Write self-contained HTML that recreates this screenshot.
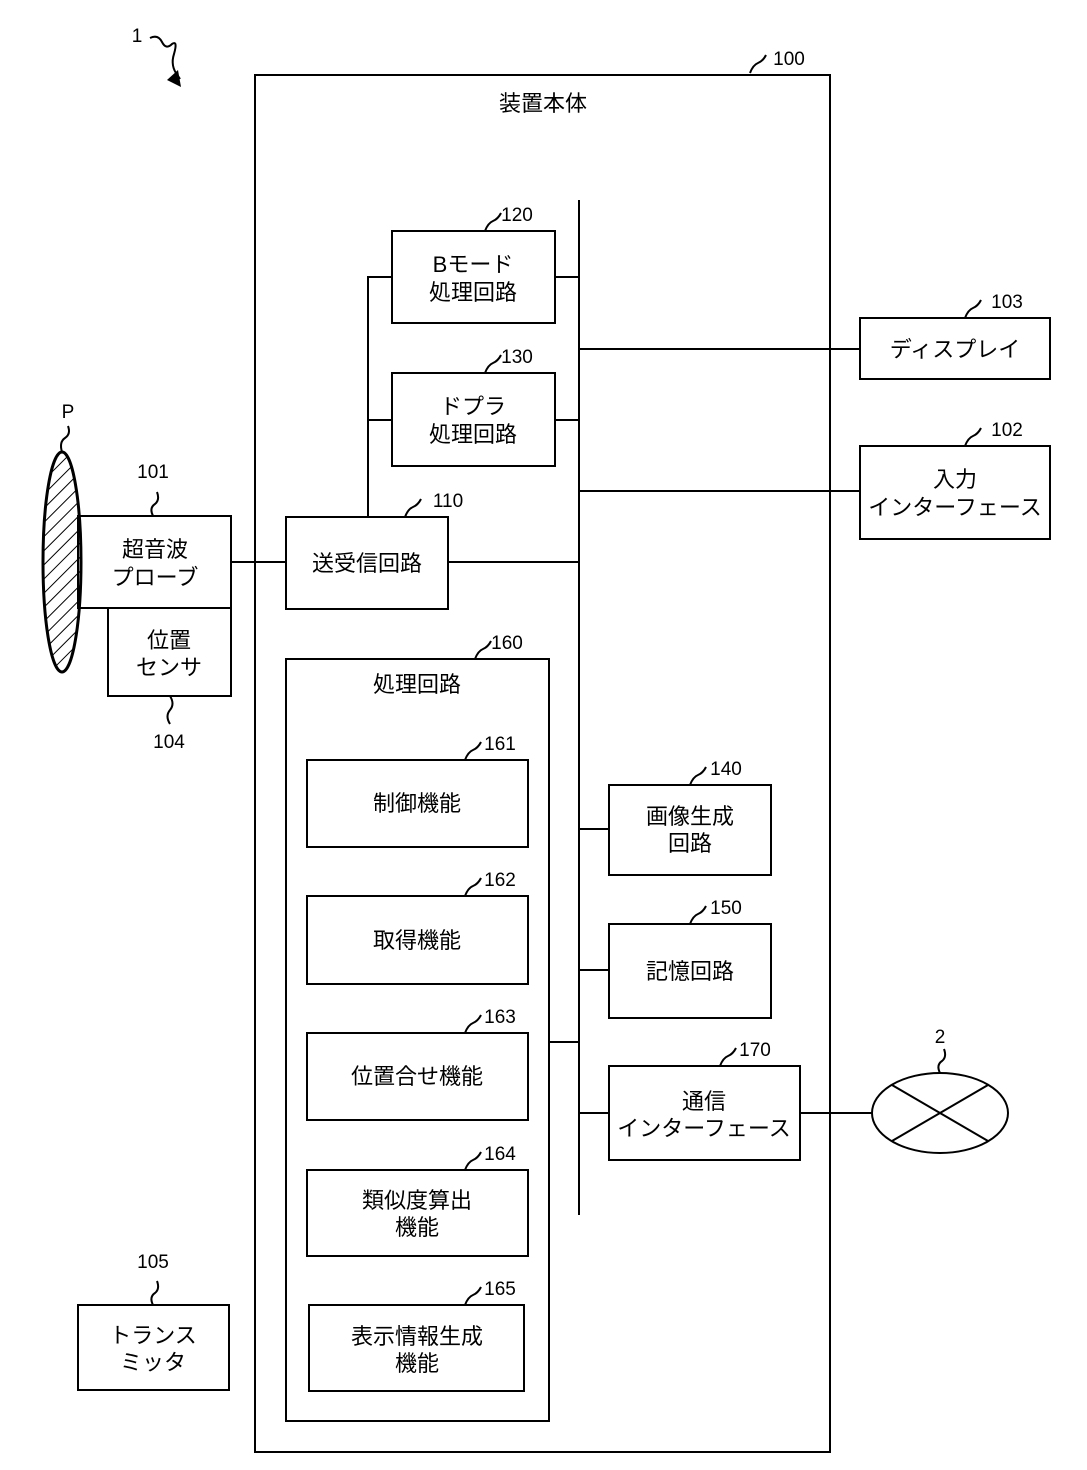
<!DOCTYPE html>
<html><head><meta charset="utf-8"><style>
html,body{margin:0;padding:0;background:#fff}
svg text{font-family:"Liberation Sans","Noto Sans CJK JP",sans-serif;fill:#000}
</style></head><body>
<svg width="1087" height="1465" viewBox="0 0 1087 1465" xmlns="http://www.w3.org/2000/svg">
<defs>
<pattern id="h" patternUnits="userSpaceOnUse" width="10" height="10" patternTransform="rotate(45)">
<line x1="0" y1="0" x2="0" y2="10" stroke="#000" stroke-width="2"/>
</pattern>
</defs>
<g fill="none" stroke="#000" stroke-width="2">
<rect x="255" y="75" width="575" height="1377"/>
<line x1="579" y1="200" x2="579" y2="1215"/>
<rect x="392" y="231" width="163" height="92"/>
<rect x="392" y="373" width="163" height="93"/>
<line x1="555" y1="277" x2="579" y2="277"/>
<line x1="555" y1="420" x2="579" y2="420"/>
<polyline points="392,277 368,277 368,517"/>
<line x1="368" y1="420" x2="392" y2="420"/>
<rect x="286" y="517" width="162" height="92"/>
<line x1="448" y1="562" x2="579" y2="562"/>
<line x1="231" y1="562" x2="286" y2="562"/>
<rect x="78" y="516" width="153" height="92"/>
<rect x="108" y="608" width="123" height="88"/>
<rect x="860" y="318" width="190" height="61"/>
<line x1="579" y1="349" x2="860" y2="349"/>
<rect x="860" y="446" width="190" height="93"/>
<line x1="579" y1="491" x2="860" y2="491"/>
<rect x="286" y="659" width="263" height="762"/>
<rect x="307" y="760" width="221" height="87"/>
<rect x="307" y="896" width="221" height="88"/>
<rect x="307" y="1033" width="221" height="87"/>
<rect x="307" y="1170" width="221" height="86"/>
<rect x="309" y="1305" width="215" height="86"/>
<line x1="549" y1="1042" x2="579" y2="1042"/>
<rect x="609" y="785" width="162" height="90"/>
<line x1="579" y1="829" x2="609" y2="829"/>
<rect x="609" y="924" width="162" height="94"/>
<line x1="579" y1="970" x2="609" y2="970"/>
<rect x="609" y="1066" width="191" height="94"/>
<line x1="579" y1="1113" x2="609" y2="1113"/>
<line x1="800" y1="1113" x2="872" y2="1113"/>
<ellipse cx="940" cy="1113" rx="68" ry="40"/>
<line x1="892" y1="1085" x2="988" y2="1141"/>
<line x1="892" y1="1141" x2="988" y2="1085"/>
<rect x="78" y="1305" width="151" height="85"/>
<path d="M750,73 q3,-8 8,-10 q5,-2 8,-8"/>
<path d="M150,38 q8,-4 12,4 q4,8 10,2 q6,-4 2,10 q-4,12 4,22 l2,3"/>
<path d="M62,452 q-3,-10 3,-14 q6,-4 3,-12"/>
<path d="M153,516 q-4,-8 2,-12 q5,-4 2,-12"/>
<path d="M170,696 q5,8 0,14 q-5,6 0,14"/>
<path d="M485,231 q3,-8 8,-10 q5,-2 8,-8"/>
<path d="M485,373 q3,-8 8,-10 q5,-2 8,-8"/>
<path d="M405,517 q3,-8 8,-10 q5,-2 8,-8"/>
<path d="M965,318 q3,-8 8,-10 q5,-2 8,-8"/>
<path d="M965,446 q3,-8 8,-10 q5,-2 8,-8"/>
<path d="M475,659 q3,-8 8,-10 q5,-2 8,-8"/>
<path d="M465,760 q3,-8 8,-10 q5,-2 8,-8"/>
<path d="M465,896 q3,-8 8,-10 q5,-2 8,-8"/>
<path d="M465,1033 q3,-8 8,-10 q5,-2 8,-8"/>
<path d="M465,1170 q3,-8 8,-10 q5,-2 8,-8"/>
<path d="M465,1305 q3,-8 8,-10 q5,-2 8,-8"/>
<path d="M690,785 q3,-8 8,-10 q5,-2 8,-8"/>
<path d="M690,924 q3,-8 8,-10 q5,-2 8,-8"/>
<path d="M720,1066 q3,-8 8,-10 q5,-2 8,-8"/>
<path d="M940,1073 q-4,-8 2,-12 q5,-4 2,-12"/>
<path d="M153,1305 q-4,-8 2,-12 q5,-4 2,-12"/>
</g>
<polygon points="181,87 167,80 178,70" fill="#000"/>
<ellipse cx="62" cy="562" rx="19" ry="110" fill="url(#h)" stroke="#000" stroke-width="3"/>
<g font-size="22" text-anchor="middle">
<text x="543" y="111">装置本体</text>
<text x="473" y="272">Bモード</text>
<text x="473" y="300">処理回路</text>
<text x="473" y="414">ドプラ</text>
<text x="473" y="442">処理回路</text>
<text x="367" y="571">送受信回路</text>
<text x="155" y="557">超音波</text>
<text x="155" y="585">プローブ</text>
<text x="169" y="648">位置</text>
<text x="169" y="675">センサ</text>
<text x="955" y="357">ディスプレイ</text>
<text x="955" y="487">入力</text>
<text x="955" y="515">インターフェース</text>
<text x="417" y="692">処理回路</text>
<text x="417" y="811">制御機能</text>
<text x="417" y="948">取得機能</text>
<text x="417" y="1084">位置合せ機能</text>
<text x="417" y="1208">類似度算出</text>
<text x="417" y="1235">機能</text>
<text x="417" y="1344">表示情報生成</text>
<text x="417" y="1371">機能</text>
<text x="690" y="824">画像生成</text>
<text x="690" y="851">回路</text>
<text x="690" y="979">記憶回路</text>
<text x="704" y="1109">通信</text>
<text x="704" y="1136">インターフェース</text>
<text x="153" y="1343">トランス</text>
<text x="153" y="1370">ミッタ</text>
</g>
<g font-size="19" text-anchor="middle">
<text x="789" y="65">100</text>
<text x="137" y="42">1</text>
<text x="68" y="418">P</text>
<text x="153" y="478">101</text>
<text x="169" y="748">104</text>
<text x="517" y="221">120</text>
<text x="517" y="363">130</text>
<text x="448" y="507">110</text>
<text x="1007" y="308">103</text>
<text x="1007" y="436">102</text>
<text x="507" y="649">160</text>
<text x="500" y="750">161</text>
<text x="500" y="886">162</text>
<text x="500" y="1023">163</text>
<text x="500" y="1160">164</text>
<text x="500" y="1295">165</text>
<text x="726" y="775">140</text>
<text x="726" y="914">150</text>
<text x="755" y="1056">170</text>
<text x="940" y="1043">2</text>
<text x="153" y="1268">105</text>
</g>
</svg>
</body></html>
